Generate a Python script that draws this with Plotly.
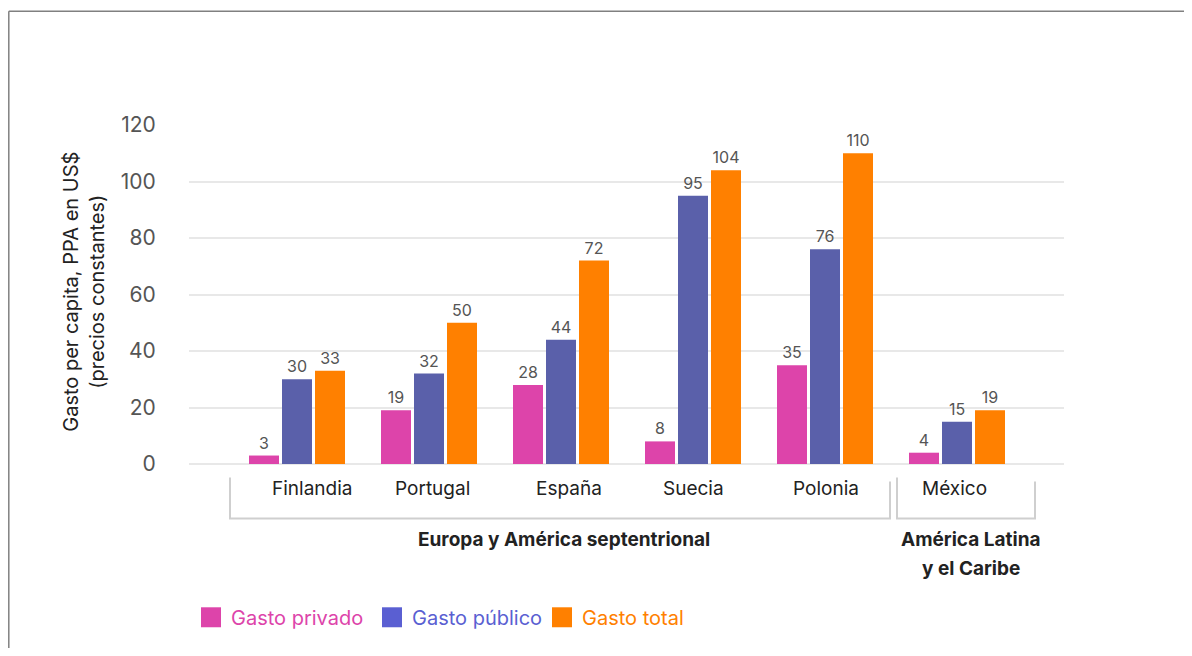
import plotly.graph_objects as go

countries = ["Finlandia", "Portugal", "España", "Suecia", "Polonia", "México"]
gasto_privado = [3, 19, 28, 8, 35, 4]
gasto_publico = [30, 32, 44, 95, 76, 15]
gasto_total = [33, 50, 72, 104, 110, 19]
series_names = ["Gasto privado", "Gasto público", "Gasto total"]
series_colors = ["#dd44aa", "#5a60aa", "#ff8000"]
legend_colors = ["#dd44aa", "#5a5fd2", "#ff8000"]
y_ticks = [0, 20, 40, 60, 80, 100, 120]
region_europe = "Europa y América septentrional"
region_latam = ["América Latina", "y el Caribe"]

# page is offset by the default 8px body margin
OFF = 8
W, H = 1192 - 2 * OFF, 656 - 2 * OFF
L = 189 - OFF
T = 125 - OFF
R = W - (1064 - OFF)
B = H - (464.5 - OFF)
PW = W - L - R
PH = H - T - B
FONT = "Inter, Lato, sans-serif"


def px(xp):
    return (xp - OFF - L) / PW


def py(yp):
    return (H - B - (yp - OFF)) / PH


xs = list(range(len(countries)))
fig = go.Figure()
for name, vals, col in zip(series_names, [gasto_privado, gasto_publico, gasto_total], series_colors):
    fig.add_trace(go.Bar(
        x=xs, y=vals, name=name, marker_color=col, marker_line_width=0,
        text=vals, texttemplate="%{text}", textposition="outside",
        textfont=dict(size=16, color="#555555", family=FONT),
        constraintext="none", cliponaxis=False, showlegend=False,
    ))

shapes = []
annotations = []
# outer border (left and top)
shapes.append(dict(type="line", xref="paper", yref="paper", x0=px(8.8), x1=px(8.8), y0=py(11), y1=py(700),
                   line=dict(color="#808080", width=1.5)))
shapes.append(dict(type="line", xref="paper", yref="paper", x0=px(8.8), x1=px(1250), y0=py(11), y1=py(11),
                   line=dict(color="#808080", width=1.5)))

# brackets
br_col = "#cfcfcf"
for (x0, x1, yl, yr) in [(230, 890, 478, 482), (897, 1035, 478, 482)]:
    shapes.append(dict(type="path", xref="paper", yref="paper",
                       path=f"M{px(x0)},{py(yl)} L{px(x0)},{py(519)} L{px(x1)},{py(519)} L{px(x1)},{py(yr)}",
                       line=dict(color=br_col, width=2)))


def ann(x, y, text, size, color, xref="paper", xanchor="center", **kw):
    annotations.append(dict(x=x, y=y, xref=xref, yref="paper", text=text, showarrow=False,
                            xanchor=xanchor, yanchor="middle",
                            font=dict(size=size, color=color, family=FONT), **kw))


# country labels
label_shift = [15, 3, 8, 0, 1, -3]
for i, c in enumerate(countries):
    ann(xs[i], py(489), c, 19, "#222222", xref="x", xshift=label_shift[i])

# region labels
ann(px(564), py(540), "<b>" + region_europe + "</b>", 19, "#222222")
ann(px(971), py(540), "<b>" + region_latam[0] + "</b>", 19, "#222222")
ann(px(971), py(569), "<b>" + region_latam[1] + "</b>", 19, "#222222")

# legend (custom)
leg_x = [201, 382, 552]
for i in range(3):
    shapes.append(dict(type="rect", xref="paper", yref="paper",
                       x0=px(leg_x[i]), x1=px(leg_x[i] + 20), y0=py(628), y1=py(608),
                       fillcolor=legend_colors[i], line=dict(width=0)))
    ann(px(leg_x[i] + 28), py(619), series_names[i], 20, legend_colors[i], xanchor="left")

# y-axis title
ann(px(84), py(292), "Gasto per capita, PPA en US$<br>(precios constantes)", 20, "#222222", textangle=-90)

fig.update_layout(
    width=W, height=H,
    margin=dict(l=L, r=R, t=T, b=B, pad=0),
    paper_bgcolor="white", plot_bgcolor="white",
    barmode="group", bargap=0.25, bargroupgap=0.0909,
    font=dict(family=FONT),
    shapes=shapes, annotations=annotations,
    showlegend=False,
)
fig.update_xaxes(range=[-108 / 132, 767 / 132], showticklabels=False, showgrid=False, zeroline=False,
                 showline=False, ticks="")
fig.update_yaxes(range=[0, 120], tickvals=y_ticks, showgrid=True, gridcolor="#e8e8e8", gridwidth=2,
                 zeroline=True, zerolinecolor="#e8e8e8", zerolinewidth=2,
                 tickfont=dict(size=21, color="#555555", family=FONT),
                 ticks="outside", ticklen=0, ticklabelstandoff=28, showline=False)

fig.write_html("out.html")
